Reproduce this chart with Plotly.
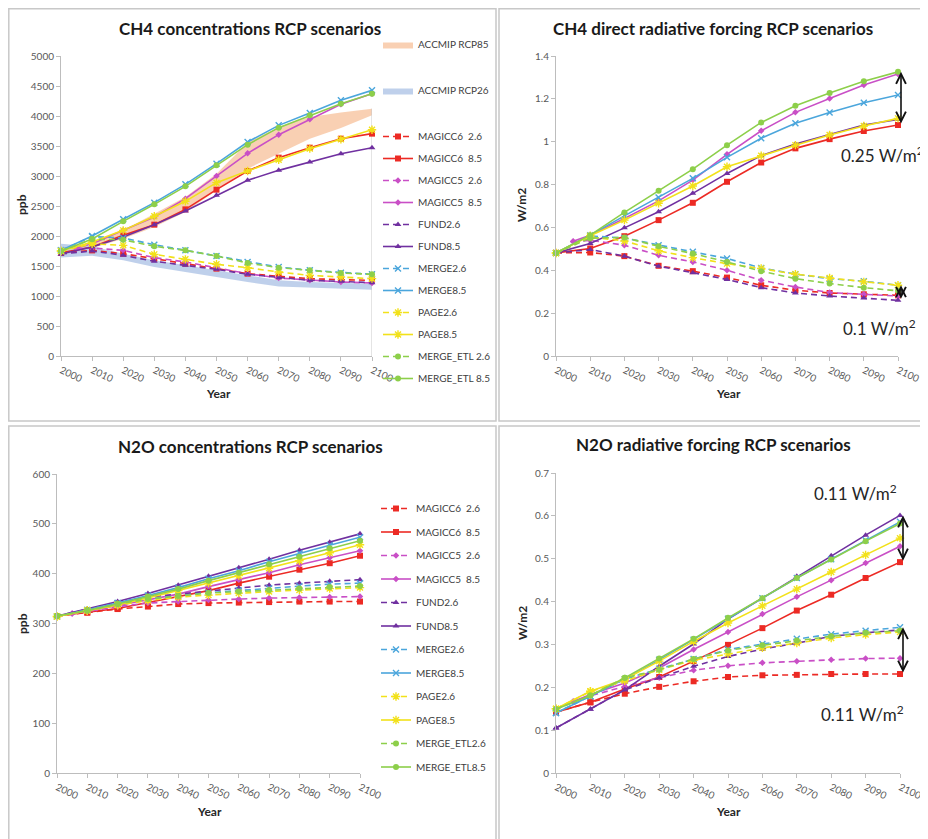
import plotly.graph_objects as go

W, H = 928, 839          # browser window
OX, OY = 8, 8            # page body margin in front of the plot div
FW, FH = W - OX, H - OY  # figure size so it ends at the window edge
FONT = "Lato"

# ---------------- data ----------------
years = [2000, 2010, 2020, 2030, 2040, 2050, 2060, 2070, 2080, 2090, 2100]
years_m5 = [2005, 2010, 2020, 2030, 2040, 2050, 2060, 2070, 2080, 2090, 2100]

# CH4 concentrations (ppb)
ch4_conc = {
    ("MAGICC6", "2.6"): [1720, 1760, 1706, 1622, 1539, 1456, 1372, 1328, 1289, 1272, 1261],
    ("MAGICC6", "8.5"): [1720, 1817, 2011, 2189, 2444, 2772, 3083, 3306, 3472, 3622, 3706],
    ("MAGICC5", "2.6"): [1790, 1800, 1761, 1639, 1567, 1467, 1372, 1300, 1261, 1233, 1217],
    ("MAGICC5", "8.5"): [1800, 1872, 2094, 2317, 2622, 3000, 3378, 3689, 3944, 4194, 4372],
    ("FUND", "2.6"): [1700, 1750, 1678, 1578, 1511, 1444, 1361, 1306, 1261, 1244, 1222],
    ("FUND", "8.5"): [1700, 1817, 1983, 2189, 2417, 2678, 2928, 3094, 3233, 3372, 3472],
    ("MERGE", "2.6"): [1761, 1990, 1967, 1856, 1761, 1667, 1567, 1483, 1428, 1389, 1361],
    ("MERGE", "8.5"): [1761, 2000, 2278, 2556, 2861, 3206, 3567, 3844, 4050, 4261, 4428],
    ("PAGE", "2.6"): [1750, 1870, 1844, 1694, 1611, 1528, 1472, 1400, 1344, 1317, 1289],
    ("PAGE", "8.5"): [1750, 1900, 2094, 2328, 2578, 2889, 3083, 3272, 3456, 3611, 3772],
    ("MERGE_ETL", "2.6"): [1750, 1945, 1939, 1828, 1761, 1667, 1550, 1472, 1428, 1383, 1361],
    ("MERGE_ETL", "8.5"): [1750, 1950, 2244, 2528, 2828, 3178, 3522, 3806, 4011, 4206, 4372],
}
accmip85_years = [2010, 2020, 2030, 2040, 2050, 2060, 2070, 2080, 2090, 2100]
accmip85_low = [1800, 1956, 2150, 2400, 2761, 3122, 3372, 3622, 3800, 4011]
accmip85_high = [1880, 2094, 2372, 2650, 3039, 3560, 3817, 3983, 4060, 4122]
accmip26_years = years
accmip26_low = [1640, 1670, 1594, 1483, 1400, 1317, 1233, 1160, 1139, 1122, 1106]
accmip26_high = [1870, 1830, 1706, 1594, 1511, 1428, 1344, 1261, 1233, 1217, 1206]

# CH4 direct radiative forcing (W/m2)
ch4_rf = {
    ("MAGICC6", "2.6"): [0.481, 0.483, 0.466, 0.421, 0.396, 0.366, 0.330, 0.307, 0.294, 0.288, 0.283],
    ("MAGICC6", "8.5"): [0.481, 0.502, 0.559, 0.634, 0.715, 0.813, 0.903, 0.969, 1.012, 1.050, 1.078],
    ("MAGICC5", "2.6"): [0.533, 0.540, 0.517, 0.470, 0.439, 0.400, 0.354, 0.322, 0.296, 0.288, 0.280],
    ("MAGICC5", "8.5"): [0.536, 0.564, 0.642, 0.724, 0.821, 0.941, 1.051, 1.137, 1.202, 1.265, 1.316],
    ("FUND", "2.6"): [0.481, 0.497, 0.466, 0.419, 0.389, 0.357, 0.319, 0.294, 0.280, 0.271, 0.260],
    ("FUND", "8.5"): [0.481, 0.525, 0.598, 0.673, 0.759, 0.852, 0.935, 0.989, 1.034, 1.078, 1.104],
    ("MERGE", "2.6"): [0.481, 0.560, 0.551, 0.517, 0.486, 0.455, 0.411, 0.382, 0.361, 0.349, 0.330],
    ("MERGE", "8.5"): [0.481, 0.564, 0.654, 0.740, 0.829, 0.927, 1.016, 1.086, 1.136, 1.182, 1.218],
    ("PAGE", "2.6"): [0.481, 0.555, 0.537, 0.491, 0.459, 0.431, 0.408, 0.382, 0.364, 0.346, 0.330],
    ("PAGE", "8.5"): [0.481, 0.561, 0.634, 0.713, 0.793, 0.883, 0.935, 0.984, 1.031, 1.073, 1.109],
    ("MERGE_ETL", "2.6"): [0.481, 0.550, 0.553, 0.512, 0.478, 0.439, 0.396, 0.361, 0.338, 0.319, 0.304],
    ("MERGE_ETL", "8.5"): [0.481, 0.564, 0.670, 0.771, 0.872, 0.984, 1.090, 1.168, 1.227, 1.282, 1.326],
}

# N2O concentrations (ppb)
n2o_conc = {
    ("MAGICC6", "2.6"): [315, 322, 329, 334, 339, 341, 342, 343, 344, 344, 344],
    ("MAGICC6", "8.5"): [315, 322, 330, 342, 354, 366, 381, 394, 408, 421, 436],
    ("MAGICC5", "2.6"): [320, 324, 334, 341, 344, 347, 349, 351, 352, 353, 354],
    ("MAGICC5", "8.5"): [320, 324, 336, 347, 359, 374, 388, 402, 418, 432, 446],
    ("FUND", "2.6"): [315, 329, 342, 353, 359, 364, 371, 377, 381, 385, 388],
    ("FUND", "8.5"): [315, 329, 344, 360, 377, 395, 412, 429, 447, 463, 480],
    ("MERGE", "2.6"): [314, 327, 341, 349, 356, 362, 366, 371, 375, 379, 381],
    ("MERGE", "8.5"): [314, 327, 341, 356, 372, 390, 406, 424, 441, 457, 473],
    ("PAGE", "2.6"): [314, 326, 337, 346, 353, 357, 361, 364, 367, 370, 372],
    ("PAGE", "8.5"): [314, 326, 337, 351, 366, 381, 396, 411, 426, 442, 458],
    ("MERGE_ETL", "2.6"): [315, 326, 339, 349, 355, 361, 364, 367, 370, 373, 375],
    ("MERGE_ETL", "8.5"): [315, 326, 339, 354, 369, 386, 402, 419, 434, 451, 466],
}

# N2O radiative forcing (W/m2)
n2o_rf = {
    ("MAGICC6", "2.6"): [0.142, 0.165, 0.185, 0.201, 0.214, 0.224, 0.228, 0.229, 0.231, 0.231, 0.231],
    ("MAGICC6", "8.5"): [0.142, 0.165, 0.196, 0.224, 0.261, 0.299, 0.338, 0.379, 0.416, 0.455, 0.492],
    ("MAGICC5", "2.6"): [0.167, 0.180, 0.202, 0.222, 0.240, 0.250, 0.257, 0.261, 0.264, 0.267, 0.268],
    ("MAGICC5", "8.5"): [0.167, 0.183, 0.210, 0.245, 0.288, 0.329, 0.371, 0.411, 0.450, 0.490, 0.529],
    ("FUND", "2.6"): [0.105, 0.149, 0.194, 0.222, 0.249, 0.272, 0.289, 0.303, 0.319, 0.327, 0.334],
    ("FUND", "8.5"): [0.105, 0.149, 0.194, 0.249, 0.301, 0.359, 0.408, 0.459, 0.507, 0.555, 0.601],
    ("MERGE", "2.6"): [0.140, 0.179, 0.219, 0.243, 0.266, 0.288, 0.301, 0.313, 0.324, 0.332, 0.340],
    ("MERGE", "8.5"): [0.140, 0.179, 0.219, 0.264, 0.311, 0.360, 0.408, 0.455, 0.499, 0.543, 0.586],
    ("PAGE", "2.6"): [0.150, 0.190, 0.215, 0.241, 0.263, 0.278, 0.292, 0.303, 0.315, 0.323, 0.329],
    ("PAGE", "8.5"): [0.150, 0.191, 0.219, 0.261, 0.307, 0.350, 0.390, 0.429, 0.469, 0.509, 0.548],
    ("MERGE_ETL", "2.6"): [0.149, 0.181, 0.222, 0.241, 0.266, 0.286, 0.298, 0.309, 0.319, 0.327, 0.332],
    ("MERGE_ETL", "8.5"): [0.149, 0.181, 0.222, 0.267, 0.313, 0.362, 0.408, 0.455, 0.498, 0.541, 0.582],
}

models = ["MAGICC6", "MAGICC5", "FUND", "MERGE", "PAGE", "MERGE_ETL"]
scenarios = ["2.6", "8.5"]
names_top = {"MAGICC6": "MAGICC6\u00a0\u00a0{}", "MAGICC5": "MAGICC5\u00a0\u00a0{}", "FUND": "FUND{}",
             "MERGE": "MERGE{}", "PAGE": "PAGE{}", "MERGE_ETL": "MERGE_ETL {}"}
names_bottom = {"MAGICC6": "MAGICC6\u00a0\u00a0{}", "MAGICC5": "MAGICC5\u00a0\u00a0{}", "FUND": "FUND{}",
                "MERGE": "MERGE{}", "PAGE": "PAGE{}", "MERGE_ETL": "MERGE_ETL{}"}

# ---------------- styles ----------------
colors = {"MAGICC6": "#ec2a24", "MAGICC5": "#c94fc6", "FUND": "#7030a0",
          "MERGE": "#4ba6dc", "PAGE": "#f2e11a", "MERGE_ETL": "#8dcf4a"}
symbols = {"MAGICC6": ("square", 6, 0), "MAGICC5": ("diamond", 5, 0), "FUND": ("triangle-up", 6, 0),
           "MERGE": ("x-thin", 6, 1.4), "PAGE": ("asterisk", 7, 1.4), "MERGE_ETL": ("circle", 6, 0)}

def px_x(p):
    return (p - OX) / FW

def px_y(p):
    return 1 - (p - OY) / FH

fig = go.Figure()

# ACCMIP bands (top-left)
fig.add_trace(go.Scatter(
    x=accmip85_years + accmip85_years[::-1], y=accmip85_high + accmip85_low[::-1],
    fill="toself", fillcolor="rgba(248,200,166,0.85)", line=dict(width=0), mode="lines",
    name="ACCMIP RCP85", legend="legend", legendgroup="a", xaxis="x", yaxis="y", hoverinfo="skip"))
fig.add_trace(go.Scatter(
    x=accmip26_years + accmip26_years[::-1], y=accmip26_high + accmip26_low[::-1],
    fill="toself", fillcolor="rgba(170,192,228,0.75)", line=dict(width=0), mode="lines",
    name="ACCMIP RCP26", legend="legend", legendgroup="b", xaxis="x", yaxis="y", hoverinfo="skip"))
# right edge of the RCP85 area
fig.add_trace(go.Scatter(x=[accmip85_years[-1], accmip85_years[-1]], y=[0, accmip85_high[-1]],
                         mode="lines", line=dict(color="#c8c8c8", width=1), showlegend=False,
                         xaxis="x", yaxis="y", hoverinfo="skip"))

panels = [
    (ch4_conc, "x", "y", "legend2", names_top, True),
    (ch4_rf, "x2", "y2", None, names_top, False),
    (n2o_conc, "x3", "y3", "legend3", names_bottom, True),
    (n2o_rf, "x4", "y4", None, names_bottom, False),
]

for data, xa, ya, leg, names, show in panels:
    for m in models:
        for s in scenarios:
            vals = data[(m, s)]
            xs = years_m5 if m == "MAGICC5" else years
            sym, size, lw = symbols[m]
            marker = dict(symbol=sym, size=size, color=colors[m])
            if lw:
                marker["line"] = dict(color=colors[m], width=lw)
            kw = dict(legend=leg) if leg else {}
            fig.add_trace(go.Scatter(
                x=xs, y=vals, mode="lines+markers", name=names[m].format(s),
                line=dict(color=colors[m], width=1.6, dash="6px,4px" if s == "2.6" else "solid"),
                marker=marker, xaxis=xa, yaxis=ya, showlegend=show,
                legendgroup=f"{leg}-{m}-{s}", cliponaxis=False, **kw))

# ---------------- axes ----------------
axis_common = dict(showline=True, linecolor="#bdbdbd", linewidth=1, ticks="outside", ticklen=4,
                   tickcolor="#bdbdbd", showgrid=False, zeroline=False, automargin=False,
                   tickfont=dict(family=FONT, size=10, color="#595959"))
xcommon = dict(axis_common, range=[2000, 2100], tickvals=years, tickangle=25)

boxes = {  # pixel boxes of the plot areas in the window: x0, x1, ytop, ybottom
    1: (61, 372, 56, 356),
    2: (556, 898, 56, 356),
    3: (57, 360, 474, 773),
    4: (556, 900, 473, 773),
}
yranges = {1: ([0, 5000], 500), 2: ([0, 1.4], 0.2), 3: ([0, 600], 100), 4: ([0, 0.7], 0.1)}
layout = {}
for i, (x0, x1, yt, yb) in boxes.items():
    sfx = "" if i == 1 else str(i)
    layout["xaxis" + sfx] = dict(xcommon, domain=[px_x(x0), px_x(x1)], anchor="y" + sfx)
    rng, dt = yranges[i]
    layout["yaxis" + sfx] = dict(axis_common, domain=[px_y(yb), px_y(yt)], range=rng, dtick=dt,
                                 anchor="x" + sfx)

legfont = dict(family=FONT, size=10, color="#404040")
fig.update_layout(
    width=FW, height=FH, margin=dict(l=0, r=0, t=0, b=0, autoexpand=False),
    paper_bgcolor="white", plot_bgcolor="white",
    legend=dict(x=px_x(378), y=px_y(30), xanchor="left", yanchor="top", traceorder="grouped",
                tracegroupgap=27, font=legfont, bgcolor="rgba(0,0,0,0)"),
    legend2=dict(x=px_x(378), y=px_y(122), xanchor="left", yanchor="top", traceorder="grouped",
                 tracegroupgap=3, font=legfont, bgcolor="rgba(0,0,0,0)"),
    legend3=dict(x=px_x(376), y=px_y(494), xanchor="left", yanchor="top", traceorder="grouped",
                 tracegroupgap=4.5, font=legfont, bgcolor="rgba(0,0,0,0)"),
    **layout,
)

# panel frames
for (x0, x1, y0, y1) in [(5, 496, 8, 421), (499, 926, 8, 421), (5, 496, 426, 850), (499, 926, 426, 850)]:
    x0 = max(x0, OX + 0.8)
    y0 = max(y0, OY + 0.8)
    fig.add_shape(type="rect", xref="paper", yref="paper", x0=px_x(x0), x1=px_x(x1),
                  y0=px_y(y1), y1=px_y(y0), line=dict(color="#c8c8c8", width=1.5), layer="below")

def label(text, cx, cy, size, color, bold=False, angle=0):
    fig.add_annotation(text=f"<b>{text}</b>" if bold else text, x=px_x(cx), y=px_y(cy),
                       xref="paper", yref="paper", xanchor="center", yanchor="middle",
                       showarrow=False, textangle=angle, font=dict(family=FONT, size=size, color=color))

# titles & axis titles
for t, cx, cy in [("CH4 concentrations RCP scenarios", 250, 28),
                  ("CH4 direct radiative forcing RCP scenarios", 713, 28),
                  ("N2O concentrations RCP scenarios", 251, 446),
                  ("N2O radiative forcing RCP scenarios", 713, 445)]:
    label(t, cx, cy, 17, "#1a1a1a", bold=True)
for t, cx, cy, ang in [("ppb", 22, 205, -90), ("Year", 218, 393, 0), ("W/m2", 522, 205, -90), ("Year", 728, 393, 0),
                       ("ppb", 22, 624, -90), ("Year", 209, 811, 0), ("W/m2", 522, 623, -90), ("Year", 728, 811, 0)]:
    label(t, cx, cy, 12, "#262626", bold=True, angle=ang)

# spread arrows at 2100
def spread(data, scen):
    ends = [data[(m, scen)][-1] for m in models]
    return max(ends), min(ends)

for data, xa, ya in [(ch4_rf, "x2", "y2"), (n2o_rf, "x4", "y4")]:
    for s in scenarios:
        hi, lo = spread(data, s)
        fig.add_annotation(x=years[-1], y=hi, ax=years[-1], ay=lo, xref=xa, yref=ya, axref=xa, ayref=ya,
                           xshift=3, text="", showarrow=True, arrowside="end+start",
                           arrowhead=5, startarrowhead=5, arrowsize=1.2, startarrowsize=1.2,
                           arrowwidth=1.6, arrowcolor="#111111", standoff=0, startstandoff=0)

for t, cx, cy in [("0.25 W/m<sup>2</sup>", 882, 155), ("0.1 W/m<sup>2</sup>", 879, 327),
                  ("0.11 W/m<sup>2</sup>", 855, 492), ("0.11 W/m<sup>2</sup>", 862, 713)]:
    label(t, cx, cy, 17, "#262626")

fig.write_html("out.html")
